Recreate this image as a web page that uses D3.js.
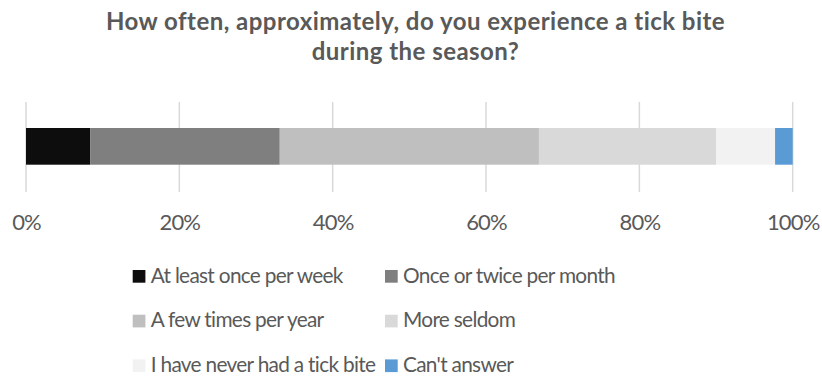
<!DOCTYPE html>
<html><head><meta charset="utf-8">
<script src="https://cdn.jsdelivr.net/npm/d3@7"></script>
<style>body{margin:0;background:#fff}svg{display:block}</style>
</head><body>
<svg id="c" width="822" height="378"></svg>
<script>
const titleLines = ["How often, approximately, do you experience a tick bite", "during the season?"];
const categories = ["At least once per week", "Once or twice per month", "A few times per year", "More seldom", "I have never had a tick bite", "Can't answer"];
const values = [8.4, 24.7, 33.8, 23.1, 7.7, 2.3];
const colors = ["#0d0d0d", "#7f7f7f", "#bfbfbf", "#d9d9d9", "#f2f2f2", "#5b9bd5"];
const tickValues = [0, 20, 40, 60, 80, 100];

const svg = d3.select("#c");
const font = "Lato, 'Open Sans', sans-serif";
const textColor = "#595959";

// returns letter-spacing so that text at given size spans target width
function fitSpacing(text, weight, size, target) {
  const t = svg.append("text").attr("font-family", font).attr("font-weight", weight).attr("font-size", size).text(text);
  const w = t.node().getComputedTextLength();
  t.remove();
  return (target - w) / text.length;
}

const x = d3.scaleLinear().domain([0, 100]).range([26, 792.7]);
const y = d3.scaleBand().domain(["q"]).range([128, 164.7]);

// title
const tSize = 24;
const tSp = fitSpacing(titleLines[0], "bold", tSize, 619);
svg.append("g").selectAll("text").data(titleLines).join("text")
  .attr("x", 415.5).attr("y", (d, i) => 29.5 + i * 30.5)
  .attr("text-anchor", "middle").attr("font-family", font).attr("font-weight", "bold")
  .attr("font-size", tSize).attr("letter-spacing", tSp).attr("fill", textColor).text(d => d);

// gridlines
svg.append("g").selectAll("line").data(tickValues).join("line")
  .attr("x1", d => x(d)).attr("x2", d => x(d)).attr("y1", 102).attr("y2", 192)
  .attr("stroke", "#d9d9d9").attr("stroke-width", 1.5);

// stacked bar
let cum = 0;
const segs = values.map((v, i) => { const s = {x0: cum, x1: cum + v, c: colors[i]}; cum += v; return s; });
svg.append("g").selectAll("rect").data(segs).join("rect")
  .attr("x", d => x(d.x0)).attr("width", d => x(d.x1) - x(d.x0))
  .attr("y", y("q")).attr("height", y.bandwidth()).attr("fill", d => d.c);

// axis labels
const aSize = 22;
const aSp = fitSpacing("100%", "normal", aSize, 52.6);
const axis = d3.axisBottom(x).tickValues(tickValues).tickFormat(d => d + "%").tickSize(0).tickPadding(0);
const ag = svg.append("g").attr("transform", "translate(0,212)").call(axis);
ag.select(".domain").remove();
ag.selectAll("text").attr("font-family", font).attr("font-size", aSize).attr("letter-spacing", aSp)
  .attr("fill", textColor).attr("dy", 0).attr("y", 18);

// legend
const lSize = 20.8;
const lSp = fitSpacing(categories[0], "normal", lSize, 192);
const lg = svg.append("g").selectAll("g").data(categories).join("g")
  .attr("transform", (d, i) => `translate(${i % 2 ? 385 : 132.7},${270 + Math.floor(i / 2) * 44.7})`);
lg.append("rect").attr("width", 12.7).attr("height", 12.7).attr("fill", (d, i) => colors[i]);
lg.append("text").attr("x", 18).attr("y", 12.7).attr("font-family", font).attr("font-size", lSize)
  .attr("letter-spacing", lSp).attr("fill", textColor).text(d => d);
</script>
</body></html>
